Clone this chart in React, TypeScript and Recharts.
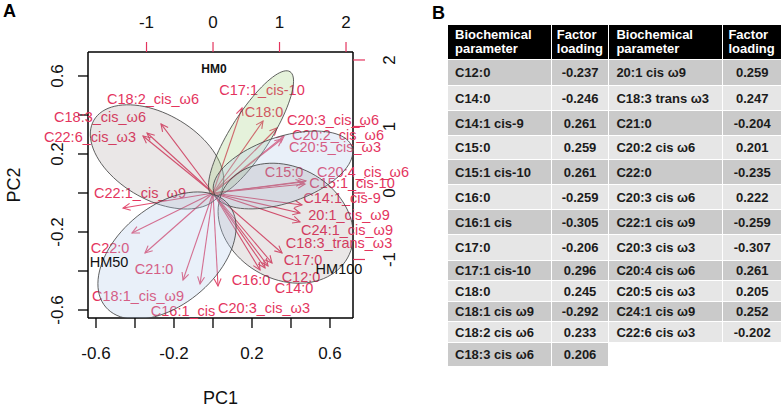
import React from "react";
import {
  ReferenceDot,
  ReferenceLine,
  Scatter,
  ScatterChart,
  XAxis,
  YAxis,
} from "recharts";

const FONT = '"Liberation Sans", Arial, Helvetica, sans-serif';
const RED = "#e4345e";
const ARROW = "#e24d70";

// --- panel A: loadings (top / right axes) ---
const acidNames = [
  "C12:0", "C14:0", "C14:1_cis-9", "C15:0", "C15:1_cis-10", "C16:0", "C16:1_cis",
  "C17:0", "C17:1_cis-10", "C18:0", "C18:1_cis_ω9", "C18:2_cis_ω6", "C18:3_cis_ω6",
  "20:1_cis_ω9", "C18:3_trans_ω3", "C21:0", "C20:2_cis_ω6", "C22:0", "C20:3_cis_ω6",
  "C22:1_cis_ω9", "C20:3_cis_ω3", "C20:4_cis_ω6", "C20:5_cis_ω3", "C24:1_cis_ω9",
  "C22:6_cis_ω3",
];
const tipX = [
  0.827, 0.782, 1.338, 1.353, 1.383, 0.707, -0.195, 0.887, 0.436, 0.752, -0.451, -0.782,
  -0.992, 1.308, 1.038, -1.023, 1.068, -1.218, 0.962, -1.353, 0.075, 1.398, 1.038, 1.308,
  -1.053,
];
const tipY = [
  -1.098, -1.128, -0.18, 0.165, 0.135, -1.158, -1.368, -1.053, 1.278, 1.083, -1.308, 1.038,
  0.902, -0.301, -0.902, -0.902, 0.857, -0.602, 0.977, -0.226, -1.398, 0.18, 0.812, -0.436,
  0.857,
];
const labelX = [
  1.323, 1.218, 1.94, 1.068, 2.09, 0.571, -0.451, 1.353, 0.737, 0.767, -1.128, -0.902,
  -1.699, 2.045, 1.895, -0.887, 1.88, -1.549, 1.805, -1.098, 0.767, 2.256, 1.835, 2.015,
  -1.85,
];
const labelY = [
  -1.263, -1.429, -0.075, 0.316, 0.15, -1.308, -1.774, -1.008, 1.549, 1.218, -1.549, 1.414,
  1.143, -0.331, -0.752, -1.143, 0.872, -0.827, 1.098, 0.0, -1.729, 0.316, 0.692, -0.556,
  0.842,
];

// --- panel A: group ellipses (bottom / left axes): centre, end of major and minor semi-axis ---
const ellipseFill = [
  "rgba(125,105,105,0.16)",
  "rgba(145,200,105,0.24)",
  "rgba(175,202,235,0.28)",
  "rgba(125,105,105,0.16)",
  "rgba(175,202,235,0.28)",
];
const centreX = [-0.287, 0.195, 0.359, 0.373, -0.236];
const centreY = [0.185, 0.306, 0.118, -0.155, -0.321];
const majorX = [0.037, 0.395, 0.713, 0.69, 0.078];
const majorY = [-0.003, 0.622, 0.236, -0.333, -0.057];
const minorX = [-0.177, 0.282, 0.412, 0.514, -0.072];
const minorY = [0.375, 0.251, -0.043, 0.096, -0.513];

const groupNames = ["HM0", "HM50", "HM100"];
const groupX = [0.005, -0.533, 0.646];
const groupY = [0.636, -0.354, -0.39];

const pcTicks = [-0.6, -0.4, -0.2, 0, 0.2, 0.4, 0.6];
const pcTickLabels = ["-0.6", "", "-0.2", "", "0.2", "", "0.6"];
const loadTicks = [-1, 0, 1, 2];

// --- panel B: table ---
const params1 = [
  "C12:0", "C14:0", "C14:1 cis-9", "C15:0", "C15:1 cis-10", "C16:0", "C16:1 cis",
  "C17:0", "C17:1 cis-10", "C18:0", "C18:1 cis ω9", "C18:2 cis ω6", "C18:3 cis ω6",
];
const loads1 = [
  "-0.237", "-0.246", "0.261", "0.259", "0.261", "-0.259", "-0.305", "-0.206", "0.296",
  "0.245", "-0.292", "0.233", "0.206",
];
const params2 = [
  "20:1 cis ω9", "C18:3 trans ω3", "C21:0", "C20:2 cis ω6", "C22:0", "C20:3 cis ω6",
  "C22:1 cis ω9", "C20:3 cis ω3", "C20:4 cis ω6", "C20:5 cis ω3", "C24:1 cis ω9",
  "C22:6 cis ω3",
];
const loads2 = [
  "0.259", "0.247", "-0.204", "0.201", "-0.235", "0.222", "-0.259", "-0.307", "0.261",
  "0.205", "0.252", "-0.202",
];
const rowHeights = [25, 24, 24, 23, 24, 24, 24, 25, 19, 20, 19, 20, 23];

const ellipseLine = (fill: string) => (p: any) => {
  const pts = p.points;
  if (!pts || pts.length < 3) return <g />;
  const [c, m, n] = pts;
  const ux = m.x - c.x;
  const uy = m.y - c.y;
  const vx = n.x - c.x;
  const vy = n.y - c.y;
  let d = "";
  for (let i = 0; i <= 90; i++) {
    const t = (i / 90) * Math.PI * 2;
    const x = c.x + ux * Math.cos(t) + vx * Math.sin(t);
    const y = c.y + uy * Math.cos(t) + vy * Math.sin(t);
    d += (i === 0 ? "M" : "L") + x.toFixed(2) + "," + y.toFixed(2);
  }
  return <path d={d + "Z"} fill={fill} stroke="#444" strokeWidth={0.85} />;
};

const Arrow = (p: any) => {
  const { x1, y1, x2, y2 } = p;
  if (x1 == null || x2 == null) return <g />;
  const ang = Math.atan2(y2 - y1, x2 - x1);
  const len = 8;
  const a = 0.45;
  const h1 = `${x2 - len * Math.cos(ang - a)},${y2 - len * Math.sin(ang - a)}`;
  const h2 = `${x2 - len * Math.cos(ang + a)},${y2 - len * Math.sin(ang + a)}`;
  return (
    <g stroke={ARROW} strokeWidth={1.1} fill="none">
      <line x1={x1} y1={y1} x2={x2} y2={y2} />
      <polyline points={`${h1} ${x2},${y2} ${h2}`} />
    </g>
  );
};

const bottomTick = (p: any) => {
  const i = pcTicks.indexOf(p.payload.value);
  return (
    <text x={p.x} y={p.y} textAnchor="middle" fontSize={17} fill="#111" fontFamily={FONT}>
      {i >= 0 ? pcTickLabels[i] : ""}
    </text>
  );
};

const leftTick = (p: any) => {
  const i = pcTicks.indexOf(p.payload.value);
  return (
    <text
      x={p.x}
      y={p.y}
      transform={`rotate(-90, ${p.x}, ${p.y})`}
      textAnchor="middle"
      fontSize={17}
      fill="#111"
      fontFamily={FONT}
    >
      {i >= 0 ? pcTickLabels[i] : ""}
    </text>
  );
};

const topTick = (p: any) => (
  <text x={p.x} y={p.y} textAnchor="middle" fontSize={17} fill="#111" fontFamily={FONT}>
    {String(p.payload.value)}
  </text>
);

const rightTick = (p: any) => (
  <text
    x={p.x}
    y={p.y}
    transform={`rotate(-90, ${p.x}, ${p.y})`}
    textAnchor="middle"
    fontSize={17}
    fill="#111"
    fontFamily={FONT}
  >
    {String(p.payload.value)}
  </text>
);

function Biplot() {
  return (
    <ScatterChart
      width={430}
      height={407}
      margin={{ top: 0, right: 0, bottom: 0, left: 0 }}
    >
      <XAxis
        xAxisId="s"
        type="number"
        dataKey="x"
        orientation="bottom"
        height={89}
        domain={[-0.641, 0.718]}
        allowDataOverflow
        ticks={pcTicks}
        interval={0}
        tickSize={10}
        tickMargin={31}
        tick={bottomTick}
        axisLine={{ stroke: "#000", strokeWidth: 1.5 }}
        tickLine={{ stroke: "#000", strokeWidth: 1.3 }}
        label={{
          content: (p: any) => (
            <text
              x={p.viewBox.x + p.viewBox.width / 2}
              y={p.viewBox.y + 86}
              textAnchor="middle"
              fontSize={18}
              fill="#111"
              fontFamily={FONT}
            >
              PC1
            </text>
          ),
        }}
      />
      <YAxis
        yAxisId="s"
        type="number"
        dataKey="y"
        orientation="left"
        width={88}
        domain={[-0.641, 0.723]}
        allowDataOverflow
        ticks={pcTicks}
        interval={0}
        tickSize={10}
        tickMargin={15}
        tick={leftTick}
        axisLine={{ stroke: "#000", strokeWidth: 1.5 }}
        tickLine={{ stroke: "#000", strokeWidth: 1.3 }}
        label={{
          content: (p: any) => {
            const x = p.viewBox.x + 20;
            const y = p.viewBox.y + p.viewBox.height / 2;
            return (
              <text
                x={x}
                y={y}
                transform={`rotate(-90, ${x}, ${y})`}
                textAnchor="middle"
                fontSize={18}
                fill="#111"
                fontFamily={FONT}
              >
                PC2
              </text>
            );
          },
        }}
      />
      <XAxis
        xAxisId="l"
        type="number"
        dataKey="x"
        orientation="top"
        height={52}
        domain={[-1.88, 2.105]}
        allowDataOverflow
        ticks={loadTicks}
        interval={0}
        tickSize={10}
        tickMargin={14}
        tick={topTick}
        axisLine={{ stroke: "#000", strokeWidth: 1.5 }}
        tickLine={{ stroke: RED, strokeWidth: 1.2 }}
      />
      <YAxis
        yAxisId="l"
        type="number"
        dataKey="y"
        orientation="right"
        width={77}
        domain={[-1.88, 2.12]}
        allowDataOverflow
        ticks={loadTicks}
        interval={0}
        tickSize={12}
        tickMargin={30}
        tick={rightTick}
        axisLine={{ stroke: "#000", strokeWidth: 1.5 }}
        tickLine={{ stroke: RED, strokeWidth: 1.2 }}
      />

      {acidNames.map((name, i) => (
        <ReferenceLine
          key={"arrow-" + name}
          xAxisId="l"
          yAxisId="l"
          ifOverflow="visible"
          segment={[
            { x: 0, y: 0 },
            { x: tipX[i], y: tipY[i] },
          ]}
          shape={Arrow}
        />
      ))}

      {acidNames.map((name, i) => (
        <ReferenceDot
          key={"label-" + name}
          xAxisId="l"
          yAxisId="l"
          x={labelX[i]}
          y={labelY[i]}
          ifOverflow="visible"
          shape={(p: any) => (
            <text
              x={p.cx}
              y={p.cy}
              textAnchor="middle"
              dominantBaseline="central"
              fontSize={14.5}
              fill={RED}
              fontFamily={FONT}
            >
              {name}
            </text>
          )}
        />
      ))}

      {ellipseFill.map((fill, i) => (
        <Scatter
          key={"ellipse-" + i}
          xAxisId="s"
          yAxisId="s"
          isAnimationActive={false}
          data={[
            { x: centreX[i], y: centreY[i] },
            { x: majorX[i], y: majorY[i] },
            { x: minorX[i], y: minorY[i] },
          ]}
          fill={fill}
          shape={() => <g />}
          line={ellipseLine(fill)}
          lineType="joint"
        />
      ))}

      {groupNames.map((name, i) => (
        <ReferenceDot
          key={"group-" + name}
          xAxisId="s"
          yAxisId="s"
          x={groupX[i]}
          y={groupY[i]}
          ifOverflow="visible"
          shape={(p: any) => (
            <text
              x={p.cx}
              y={p.cy}
              textAnchor="middle"
              dominantBaseline="central"
              fontSize={i === 0 ? 12 : 14.5}
              fontWeight={i === 0 ? "bold" : "normal"}
              fill="#111"
              fontFamily={FONT}
            >
              {name}
            </text>
          )}
        />
      ))}
    </ScatterChart>
  );
}

const cell = (bg: string, align: "left" | "center", w: number): React.CSSProperties => ({
  background: bg,
  width: w,
  padding: align === "left" ? "0 0 0 7px" : 0,
  textAlign: align,
  boxSizing: "border-box",
  whiteSpace: "nowrap",
});

function LoadingTable() {
  const widths = [104, 57, 112, 56];
  return (
    <table
      style={{
        position: "absolute",
        left: 447,
        top: 24,
        borderCollapse: "separate",
        borderSpacing: 1,
        fontFamily: FONT,
        fontWeight: "bold",
        fontSize: 13,
        color: "#1b1b1b",
        tableLayout: "fixed",
      }}
    >
      <thead>
        <tr style={{ height: 34 }}>
          {["Biochemical parameter", "Factor loading", "Biochemical parameter", "Factor loading"].map(
            (h, k) => (
              <th
                key={k}
                style={{
                  background: "#000",
                  color: "#fff",
                  width: widths[k],
                  textAlign: "left",
                  padding: k % 2 === 0 ? "0 0 0 7px" : "0 0 0 5px",
                  lineHeight: "14px",
                  fontWeight: "bold",
                  boxSizing: "border-box",
                }}
              >
                {h.split(" ")[0]}
                <br />
                {h.split(" ")[1]}
              </th>
            )
          )}
        </tr>
      </thead>
      <tbody>
        {params1.map((p, r) => {
          const bg = r % 2 === 0 ? "#cacaca" : "#e6e6e6";
          return (
            <tr key={p} style={{ height: rowHeights[r] }}>
              <td style={cell(bg, "left", widths[0])}>{p}</td>
              <td style={cell(bg, "center", widths[1])}>{loads1[r]}</td>
              {r < params2.length ? (
                <>
                  <td style={cell(bg, "left", widths[2])}>{params2[r]}</td>
                  <td style={cell(bg, "center", widths[3])}>{loads2[r]}</td>
                </>
              ) : (
                <>
                  <td style={{ width: widths[2] }} />
                  <td style={{ width: widths[3] }} />
                </>
              )}
            </tr>
          );
        })}
      </tbody>
    </table>
  );
}

export default function App() {
  return (
    <div
      style={{
        position: "absolute",
        left: 0,
        top: 0,
        width: 782,
        height: 407,
        background: "#fff",
        fontFamily: FONT,
        overflow: "hidden",
      }}
    >
      <div style={{ position: "absolute", left: 0, top: 0 }}>
        <Biplot />
      </div>
      <div style={{ position: "absolute", left: 3, top: 1, fontSize: 18, fontWeight: "bold" }}>A</div>
      <div style={{ position: "absolute", left: 432, top: 3, fontSize: 18, fontWeight: "bold" }}>B</div>
      <LoadingTable />
    </div>
  );
}
